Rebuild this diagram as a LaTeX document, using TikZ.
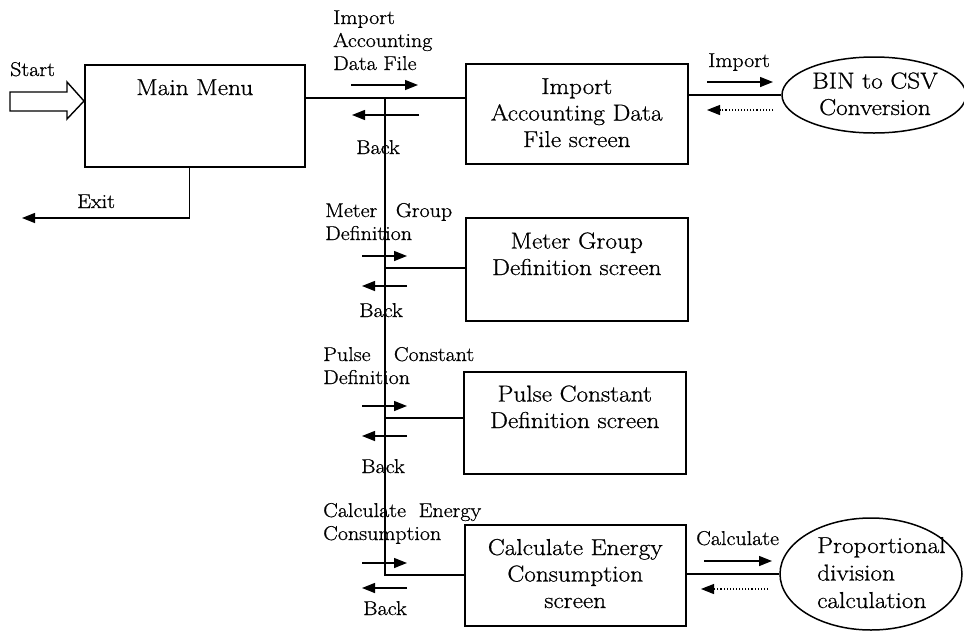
\documentclass[tikz,border=0pt]{standalone}
\usepackage{fontspec}
\setmainfont{Latin Modern Roman}[FakeStretch=1.1,FakeBold=0.8]
\usetikzlibrary{arrows.meta,shapes.geometric}
\tikzset{
  box/.style={draw,line width=1.5pt,rectangle,inner sep=0pt,anchor=north west},
  oval/.style={draw,line width=1.5pt,ellipse,inner sep=0pt},
  boxtext/.style={font=\fontsize{23}{26.5}\selectfont,align=center,inner sep=0pt,anchor=base},
  lbl/.style={font=\fontsize{20}{23}\selectfont,inner sep=0pt,anchor=base west,align=left},
  conn/.style={line width=1.4pt},
  arr/.style={line width=1.4pt,-{Triangle[length=13pt,width=10pt]}},
  darr/.style={line width=1.1pt,dotted,-{Triangle[length=13pt,width=10pt]}},
}
\begin{document}
\begin{tikzpicture}[x=1pt,y=-1pt]
\useasboundingbox (0,0) rectangle (964,630);
% boxes
\node[box,minimum width=220pt,minimum height=102pt] (main) at (84,64) {};
\node[box,minimum width=222pt,minimum height=100pt] (imp) at (465,63) {};
\node[box,minimum width=222pt,minimum height=103pt] (meter) at (465,217) {};
\node[box,minimum width=222pt,minimum height=102pt] (pulse) at (463,371) {};
\node[box,minimum width=221pt,minimum height=101pt] (calc) at (464,524) {};
\node[oval,minimum width=184pt,minimum height=76pt] (bin) at (874,95) {};
\node[oval,minimum width=182pt,minimum height=112pt] (prop) at (871,574) {};
% box texts (base = last line)
\node[boxtext] (tmain) at ([yshift=-31pt]main.north) {Main Menu};
\node[boxtext] (timp) at ([yshift=-84pt]imp.north) {Import\\Accounting Data\\File screen};
\node[boxtext] (tmeter) at ([yshift=-58pt]meter.north) {Meter Group\\Definition screen};
\node[boxtext] (tpulse) at ([yshift=-57pt]pulse.north) {Pulse Constant\\Definition screen};
\node[boxtext] (tcalc) at ([yshift=-84pt]calc.north) {Calculate Energy\\Consumption\\screen};
\node[boxtext] (tbin) at (875,115) {BIN to CSV\\Conversion};
\node[boxtext,anchor=base west,align=left,font=\fontsize{23}{27.5}\selectfont] (tprop) at (817,608) {Proportional\\division\\calculation};
% labels
\node[lbl] (lstart) at (10,76) {Start};
\node[lbl] (lexit) at (77,208) {Exit};
\node[lbl] (limp) at (333,70) {Import\\Accounting\\Data File};
\node[lbl] (lback1) at (356,154) {Back};
\node[lbl,text width=127pt] (lmeter) at (325,217) {Meter\hfill Group\\Definition};
\node[lbl] (lback2) at (359,317) {Back};
\node[lbl,text width=151pt] (lpulse) at (323,361) {Pulse\hfill Constant\\Definition};
\node[lbl] (lback3) at (361,473) {Back};
\node[lbl,text width=158pt] (lcalc) at (323,517) {Calculate\hfill Energy\\Consumption};
\node[lbl] (lback4) at (363,615) {Back};
\node[lbl] (limport) at (708,67) {Import};
\node[lbl] (lcalculate) at (696,545) {Calculate};
% start block arrow
\draw[line width=1.4pt] (10,92) -- (67,92) -- (67,82) -- (main.west |- 0,101) -- (67,119) -- (67,111) -- (10,111) -- cycle;
% exit
\coordinate (exitend) at (22,218);
\draw[arr] ([xshift=-5pt]main.south) |- (exitend);
% main trunk
\coordinate (j0) at (385,98);
\coordinate (j1) at (385,268);
\coordinate (j2) at (385,418);
\coordinate (j3) at (385,575);
\draw[conn] (main.east |- j0) -- (imp.west |- j0);
\draw[conn] (j0) -- (j3) -- (calc.west |- j3);
\draw[conn] (j1) -- (meter.west |- j1);
\draw[conn] (j2) -- (pulse.west |- j2);
\draw[conn] (imp.east |- bin.west) -- (bin.west);
\draw[conn] (calc.east |- prop.west) -- (prop.west);
% small arrows
\coordinate (a1s) at (351,85); \coordinate (a1e) at (418,85);
\coordinate (b1s) at (419,115); \coordinate (b1e) at (352,115);
\draw[arr] (a1s) -- (a1e); \draw[arr] (b1s) -- (b1e);
\coordinate (a2s) at (362,256); \coordinate (a2e) at (407,256);
\coordinate (b2s) at (407,286); \coordinate (b2e) at (362,286);
\draw[arr] (a2s) -- (a2e); \draw[arr] (b2s) -- (b2e);
\coordinate (a3s) at (362,406); \coordinate (a3e) at (407,406);
\coordinate (b3s) at (407,436); \coordinate (b3e) at (362,436);
\draw[arr] (a3s) -- (a3e); \draw[arr] (b3s) -- (b3e);
\coordinate (a4s) at (362,563); \coordinate (a4e) at (407,563);
\coordinate (b4s) at (407,588); \coordinate (b4e) at (362,588);
\draw[arr] (a4s) -- (a4e); \draw[arr] (b4s) -- (b4e);
\coordinate (c1s) at (707,82); \coordinate (c1e) at (773,82);
\coordinate (d1s) at (773,110); \coordinate (d1e) at (707,110);
\draw[arr] (c1s) -- (c1e); \draw[darr] (d1s) -- (d1e);
\coordinate (c2s) at (704,561); \coordinate (c2e) at (772,561);
\coordinate (d2s) at (768,589); \coordinate (d2e) at (701,589);
\draw[arr] (c2s) -- (c2e); \draw[darr] (d2s) -- (d2e);
\end{tikzpicture}
\end{document}
